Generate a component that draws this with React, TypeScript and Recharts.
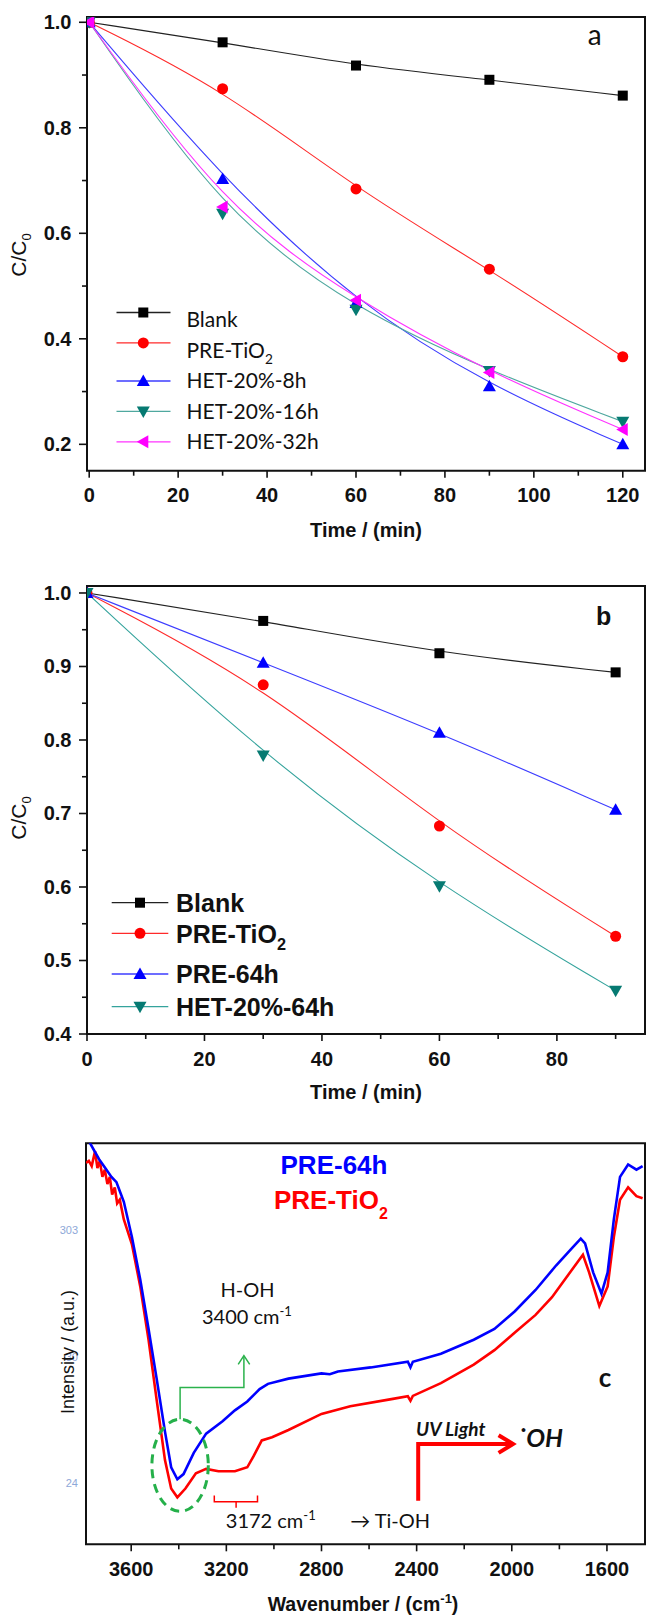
import React from "react";
import { LineChart, Line, XAxis, YAxis, Legend, ReferenceArea } from "recharts";

// ---------- panel a : C/C0 against time
const timeA = [0, 30, 60, 90, 120];
const blankA = [1.0, 0.962, 0.918, 0.891, 0.861];
const preTiO2A = [1.0, 0.874, 0.684, 0.532, 0.366];
const het8hA = [1.0, 0.703, 0.468, 0.31, 0.2];
const het16hA = [1.0, 0.637, 0.455, 0.339, 0.243];
const het32hA = [1.0, 0.65, 0.473, 0.336, 0.228];
const xTicksA = [0, 10, 20, 30, 40, 50, 60, 70, 80, 90, 100, 110, 120];
const xMajorA = [0, 20, 40, 60, 80, 100, 120];
const xLabelsA = ["0", "20", "40", "60", "80", "100", "120"];
const yTicksA = [0.2, 0.3, 0.4, 0.5, 0.6, 0.7, 0.8, 0.9, 1.0];
const yMajorA = [0.2, 0.4, 0.6, 0.8, 1.0];
const yLabelsA = ["0.2", "0.4", "0.6", "0.8", "1.0"];

// ---------- panel b
const timeB = [0, 30, 60, 90];
const blankB = [1.0, 0.962, 0.918, 0.892];
const preTiO2B = [1.0, 0.875, 0.683, 0.533];
const pre64hB = [1.0, 0.905, 0.81, 0.705];
const het64hB = [1.0, 0.779, 0.601, 0.459];
const xTicksB = [0, 10, 20, 30, 40, 50, 60, 70, 80, 90];
const xMajorB = [0, 20, 40, 60, 80];
const xLabelsB = ["0", "20", "40", "60", "80"];
const yTicksB = [0.4, 0.45, 0.5, 0.55, 0.6, 0.65, 0.7, 0.75, 0.8, 0.85, 0.9, 0.95, 1.0];
const yMajorB = [0.4, 0.5, 0.6, 0.7, 0.8, 0.9, 1.0];
const yLabelsB = ["0.4", "0.5", "0.6", "0.7", "0.8", "0.9", "1.0"];

// ---------- panel c : FTIR spectra (wavenumber, intensity a.u.)
const wnBlue = [3790, 3735, 3704, 3683, 3662, 3645, 3631, 3597, 3562, 3527, 3493, 3458, 3432, 3406, 3380, 3337, 3285, 3216, 3164, 3112, 3060, 3025, 2939, 2800, 2765, 2731, 2593, 2437, 2426, 2416, 2298, 2160, 2073, 1987, 1900, 1814, 1744, 1710, 1692, 1658, 1623, 1597, 1571, 1545, 1511, 1476, 1450];
const intBlue = [101.8, 96.0, 93.4, 91.6, 90.3, 87.6, 85.4, 76.6, 66.0, 53.7, 41.3, 28.1, 19.2, 16.2, 17.5, 22.8, 27.6, 30.7, 33.4, 35.6, 38.7, 40.0, 41.3, 42.6, 42.4, 43.1, 44.1, 45.5, 44.1, 45.5, 47.5, 51.0, 53.7, 58.1, 63.4, 69.5, 74.0, 76.2, 75.0, 67.8, 62.5, 67.8, 81.0, 91.6, 94.7, 93.4, 94.3];
const wnRed = [3790, 3778, 3766, 3752, 3742, 3732, 3721, 3711, 3700, 3690, 3680, 3669, 3659, 3648, 3631, 3597, 3562, 3527, 3493, 3458, 3432, 3406, 3372, 3328, 3285, 3233, 3164, 3112, 3086, 3051, 3008, 2939, 2800, 2679, 2506, 2437, 2426, 2416, 2298, 2160, 2073, 1987, 1900, 1831, 1744, 1701, 1675, 1632, 1597, 1571, 1545, 1511, 1476, 1450];
const intRed = [95.1, 95.6, 94.3, 98.0, 93.8, 95.6, 91.6, 93.4, 89.8, 91.6, 87.2, 89.0, 85.0, 85.9, 81.0, 74.8, 64.3, 51.0, 36.0, 21.0, 13.9, 11.7, 13.9, 17.7, 18.8, 18.2, 18.2, 19.2, 21.9, 25.9, 26.7, 28.5, 32.5, 34.4, 36.2, 36.9, 35.8, 37.0, 40.2, 44.8, 48.4, 52.8, 57.2, 61.6, 68.7, 72.2, 67.8, 59.4, 64.3, 76.6, 85.9, 89.0, 86.8, 86.3];
const xTicksC = [1600, 1800, 2000, 2200, 2400, 2600, 2800, 3000, 3200, 3400, 3600];
const xMajorC = [1600, 2000, 2400, 2800, 3200, 3600];
const xLabelsC = ["1600", "2000", "2400", "2800", "3200", "3600"];
const yTicksC = [15.3, 46.8, 78.4];
const yLabelsC = ["24", "30", "303"];

const AX = "'Liberation Sans', Arial, sans-serif";
const CAL = "Lato, 'Open Sans', sans-serif";
const near = (a: number, b: number) => Math.abs(a - b) < 1e-6;

const dataA = timeA.map((t, i) => ({ t, blank: blankA[i], pre: preTiO2A[i], h8: het8hA[i], h16: het16hA[i], h32: het32hA[i] }));
const dataB = timeB.map((t, i) => ({ t, blank: blankB[i], pre: preTiO2B[i], p64: pre64hB[i], h64: het64hB[i] }));
const blueC = wnBlue.map((wn, i) => ({ wn, v: intBlue[i] }));
const redC = wnRed.map((wn, i) => ({ wn, v: intRed[i] }));

const seriesA = [
  { key: "blank", name: "Blank", stroke: "#222", fill: "#000", shape: "square" },
  { key: "pre", name: "PRE-TiO2", stroke: "#ff2a2a", fill: "#ff0000", shape: "circle" },
  { key: "h8", name: "HET-20%-8h", stroke: "#3d3dff", fill: "#0000ff", shape: "up" },
  { key: "h16", name: "HET-20%-16h", stroke: "#4fa89f", fill: "#067a72", shape: "down" },
  { key: "h32", name: "HET-20%-32h", stroke: "#ff33ff", fill: "#ff00ff", shape: "left" },
];
const seriesB = [
  { key: "blank", name: "Blank", stroke: "#222", fill: "#000", shape: "square" },
  { key: "pre", name: "PRE-TiO2", stroke: "#ff2a2a", fill: "#ff0000", shape: "circle" },
  { key: "p64", name: "PRE-64h", stroke: "#3d3dff", fill: "#0000ff", shape: "up" },
  { key: "h64", name: "HET-20%-64h", stroke: "#34a39c", fill: "#067a72", shape: "down" },
];

function Marker({ shape, cx, cy, fill }: any) {
  if (cx == null || cy == null) return null;
  if (shape === "square") return <rect x={cx - 5} y={cy - 5} width={10} height={10} fill={fill} />;
  if (shape === "circle") return <circle cx={cx} cy={cy} r={5.5} fill={fill} />;
  const t = 6.5, u = 5;
  let pts = "";
  if (shape === "up") pts = `${cx},${cy - t} ${cx - t},${cy + u} ${cx + t},${cy + u}`;
  if (shape === "down") pts = `${cx},${cy + t} ${cx - t},${cy - u} ${cx + t},${cy - u}`;
  if (shape === "left") pts = `${cx - t},${cy} ${cx + u},${cy - t} ${cx + u},${cy + t}`;
  return <polygon points={pts} fill={fill} />;
}

function Name({ text, sub }: { text: string; sub: number }) {
  const m = text.match(/^(.*TiO)2$/);
  if (!m) return <>{text}</>;
  return (
    <>
      {m[1]}
      <tspan dy={sub * 0.45} fontSize={sub}>2</tspan>
    </>
  );
}

const xTick = (majors: number[], labels: string[]) => (props: any) => {
  const { x, y, payload } = props;
  const i = majors.findIndex((m) => near(m, payload.value));
  return (
    <g>
      <line x1={x} y1={y} x2={x} y2={y + (i >= 0 ? 7 : 5)} stroke="#111" strokeWidth={1.6} />
      {i >= 0 && (
        <text x={x} y={y + 31.5} textAnchor="middle" fontFamily={AX} fontWeight={700} fontSize={20} fill="#111">
          {labels[i]}
        </text>
      )}
    </g>
  );
};

const yTick = (majors: number[], labels: string[]) => (props: any) => {
  const { x, y, payload } = props;
  const i = majors.findIndex((m) => near(m, payload.value));
  return (
    <g>
      <line x1={x} y1={y} x2={x - (i >= 0 ? 8 : 5)} y2={y} stroke="#111" strokeWidth={1.6} />
      {i >= 0 && (
        <text x={x - 15.5} y={y + 7} textAnchor="end" fontFamily={AX} fontWeight={700} fontSize={20} fill="#111">
          {labels[i]}
        </text>
      )}
    </g>
  );
};

const faintTick = (props: any) => {
  const { x, y, payload } = props;
  const i = yTicksC.findIndex((m) => near(m, payload.value));
  return (
    <text x={x - 8} y={y + 4} textAnchor="end" fontFamily={AX} fontSize={11} fill="#8ea8d8">
      {yLabelsC[i]}
    </text>
  );
};

function LegendRows({ series, w, h, rows, texts, lineX, markX, textX, font, size, weight }: any) {
  return (
    <svg width={w} height={h} style={{ position: "absolute", left: 0, top: 0, overflow: "visible", pointerEvents: "none" }}>
      {series.map((s: any, i: number) => (
        <g key={s.key}>
          <line x1={lineX[0]} y1={rows[i]} x2={lineX[1]} y2={rows[i]} stroke={s.stroke} strokeWidth={1.3} />
          <Marker shape={s.shape} cx={markX} cy={rows[i]} fill={s.fill} />
          <text x={textX} y={texts[i]} fontFamily={font} fontSize={size} fontWeight={weight} fill="#111">
            <Name text={s.name} sub={size * 0.65} />
          </text>
        </g>
      ))}
    </svg>
  );
}

const dotFor = (s: any) => (p: any) => <Marker key={`${s.key}-${p.index}`} shape={s.shape} cx={p.cx} cy={p.cy} fill={s.fill} />;

export default function App() {
  return (
    <div style={{ position: "absolute", left: 0, top: 0, width: 646, height: 1615, background: "#fff", fontFamily: AX }}>
      {/* panel a */}
      <div style={{ position: "absolute", left: 0, top: 0 }}>
        <LineChart width={646} height={560} data={dataA} margin={{ top: 17, right: 1, bottom: 0, left: 0 }}>
          <XAxis type="number" dataKey="t" domain={[-0.5, 125]} ticks={xTicksA} interval={0} tickSize={0} tickMargin={0} axisLine={false} tick={xTick(xMajorA, xLabelsA)} height={89.3} allowDataOverflow />
          <YAxis type="number" domain={[0.15, 1.01]} ticks={yTicksA} interval={0} tickSize={0} tickMargin={0} axisLine={false} tick={yTick(yMajorA, yLabelsA)} width={87} allowDataOverflow />
          <ReferenceArea x1={-0.5} x2={125} y1={0.15} y2={1.01} fill="none" stroke="#111" strokeWidth={2} ifOverflow="visible" />
          {seriesA.map((s) => (
            <Line key={s.key} type="basis" dataKey={s.key} stroke={s.stroke} strokeWidth={1.1} dot={dotFor(s)} isAnimationActive={false} />
          ))}
          <Legend
            layout="vertical"
            align="center"
            verticalAlign="middle"
            wrapperStyle={{ left: 0, top: 0, width: 646, height: 560 }}
            content={() => (
              <LegendRows series={seriesA} w={646} h={560} rows={[312.5, 342.9, 381, 411.4, 441.8]} texts={[327, 358, 388.3, 418.6, 449.3]} lineX={[116.5, 170.5]} markX={143.3} textX={186.5} font={CAL} size={21} weight={400} />
            )}
          />
        </LineChart>
      </div>

      {/* panel b */}
      <div style={{ position: "absolute", left: 0, top: 560 }}>
        <LineChart width={646} height={540} data={dataB} margin={{ top: 26, right: 1, bottom: 0, left: 0 }}>
          <XAxis type="number" dataKey="t" domain={[0, 95]} ticks={xTicksB} interval={0} tickSize={0} tickMargin={0} axisLine={false} tick={xTick(xMajorB, xLabelsB)} height={66} allowDataOverflow />
          <YAxis type="number" domain={[0.4, 1.0095]} ticks={yTicksB} interval={0} tickSize={0} tickMargin={0} axisLine={false} tick={yTick(yMajorB, yLabelsB)} width={87} allowDataOverflow />
          <ReferenceArea x1={0} x2={95} y1={0.4} y2={1.0095} fill="none" stroke="#111" strokeWidth={2} ifOverflow="visible" />
          {seriesB.map((s) => (
            <Line key={s.key} type="basis" dataKey={s.key} stroke={s.stroke} strokeWidth={1.1} dot={dotFor(s)} isAnimationActive={false} />
          ))}
          <Legend
            layout="vertical"
            align="center"
            verticalAlign="middle"
            wrapperStyle={{ left: 0, top: 0, width: 646, height: 540 }}
            content={() => (
              <LegendRows series={seriesB} w={646} h={540} rows={[342.7, 373.3, 414, 446.7]} texts={[351.6, 382.9, 422.9, 455.6]} lineX={[111.7, 168.3]} markX={140} textX={176} font={AX} size={25} weight={700} />
            )}
          />
        </LineChart>
      </div>

      {/* panel c */}
      <div style={{ position: "absolute", left: 0, top: 1100 }}>
        <LineChart width={646} height={515} margin={{ top: 43.2, right: 1, bottom: 0, left: 0 }}>
          <XAxis type="number" dataKey="wn" reversed domain={[1440, 3790]} ticks={xTicksC} interval={0} tickSize={0} tickMargin={0} axisLine={false} tick={xTick(xMajorC, xLabelsC)} height={70.7} allowDataOverflow />
          <YAxis type="number" domain={[0, 100]} ticks={yTicksC} interval={0} tickSize={0} tickMargin={0} axisLine={false} tick={faintTick} width={86} allowDataOverflow />
          <ReferenceArea x1={1440} x2={3790} y1={0} y2={100} fill="none" stroke="#111" strokeWidth={2} ifOverflow="visible" />
          <Line data={redC} type="linear" dataKey="v" stroke="#ff0000" strokeWidth={2.6} dot={false} isAnimationActive={false} />
          <Line data={blueC} type="linear" dataKey="v" stroke="#0000ff" strokeWidth={2.6} dot={false} isAnimationActive={false} />
        </LineChart>
      </div>

      {/* titles and annotations */}
      <svg width={646} height={1615} style={{ position: "absolute", left: 0, top: 0, pointerEvents: "none" }}>
        <text x={594.8} y={44.5} textAnchor="middle" fontFamily={CAL} fontSize={28} fill="#111">a</text>
        <text x={603.6} y={625} textAnchor="middle" fontFamily={AX} fontWeight={700} fontSize={25} fill="#111">b</text>
        <text x={605} y={1387.4} textAnchor="middle" fontFamily={CAL} fontWeight={700} fontSize={26} fill="#111">c</text>

        <text x={366} y={536.7} textAnchor="middle" fontFamily={AX} fontWeight={700} fontSize={20} fill="#111">Time / (min)</text>
        <text x={366} y={1099} textAnchor="middle" fontFamily={AX} fontWeight={700} fontSize={20} fill="#111">Time / (min)</text>
        <text x={363} y={1611} textAnchor="middle" fontFamily={AX} fontWeight={700} fontSize={19.5} fill="#111">
          Wavenumber / (cm<tspan dy={-8} fontSize={13}>-1</tspan><tspan dy={8}>)</tspan>
        </text>

        <text x={26} y={255} transform="rotate(-90 26 255)" textAnchor="middle" fontFamily={AX} fontSize={21} fill="#111">
          C/C<tspan dy={5} fontSize={13}>0</tspan>
        </text>
        <text x={26} y={818} transform="rotate(-90 26 818)" textAnchor="middle" fontFamily={AX} fontSize={21} fill="#111">
          C/C<tspan dy={5} fontSize={13}>0</tspan>
        </text>
        <text x={74} y={1352} transform="rotate(-90 74 1352)" textAnchor="middle" fontFamily={AX} fontSize={18} fill="#111">
          Intensity / (a.u.)
        </text>

        <text x={334} y={1174} textAnchor="middle" fontFamily={AX} fontWeight={700} fontSize={26} fill="#0000ff">PRE-64h</text>
        <text x={274} y={1208.7} fontFamily={AX} fontWeight={700} fontSize={26} fill="#ff0000">
          PRE-TiO<tspan dy={10} fontSize={16}>2</tspan>
        </text>

        <text x={247.6} y={1296.5} textAnchor="middle" fontFamily={CAL} fontSize={20} fill="#111">H-OH</text>
        <text x={202} y={1323.7} fontFamily={CAL} fontSize={20} fill="#111">
          3400 cm<tspan dy={-8} fontSize={13}>-1</tspan>
        </text>
        <polyline points="180.1,1419.3 180.1,1387.4 243.9,1387.4 243.9,1356.5" fill="none" stroke="#2bb24c" strokeWidth={1.5} />
        <polyline points="238.2,1364.4 243.9,1355.6 249.7,1364.4" fill="none" stroke="#2bb24c" strokeWidth={1.5} />
        <ellipse cx={180.1} cy={1465.3} rx={28.2} ry={46} fill="none" stroke="#25b04a" strokeWidth={3} strokeDasharray="9 6" />

        <polyline points="214.3,1495.4 214.3,1501.8 257.5,1501.8 257.5,1495.4" fill="none" stroke="#ff0000" strokeWidth={1.5} />
        <line x1={236.1} y1={1501.8} x2={236.1} y2={1507.8} stroke="#ff0000" strokeWidth={1.5} />
        <text x={225.8} y={1528} fontFamily={CAL} fontSize={20} fill="#111">
          3172 cm<tspan dy={-8} fontSize={13}>-1</tspan>
        </text>
        <text x={350.2} y={1528} fontFamily={CAL} fontSize={20} fill="#111">→ Ti-OH</text>

        <polyline points="418.2,1500.7 418.2,1444 512,1444" fill="none" stroke="#ff0000" strokeWidth={4} />
        <polyline points="498.6,1435.2 513,1444 498.6,1452.9" fill="none" stroke="#ff0000" strokeWidth={4} />
        <text x={416} y={1436} fontFamily={CAL} fontStyle="italic" fontWeight={700} fontSize={19} fill="#111">UV Light</text>
        <text x={517} y={1446.5} fontFamily={CAL} fontStyle="italic" fontWeight={700} fontSize={25} fill="#111">˙OH</text>
      </svg>
    </div>
  );
}
